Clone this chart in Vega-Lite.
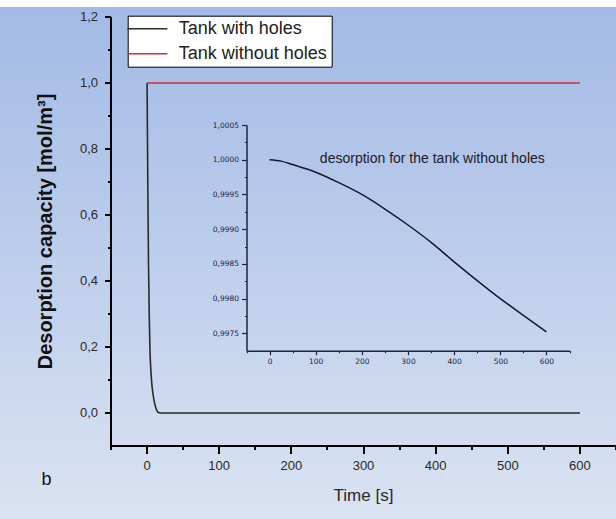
{
  "$schema": "https://vega.github.io/schema/vega-lite/v6.json",
  "width": 616,
  "height": 512,
  "autosize": "none",
  "padding": {"left": 0, "top": 7, "right": 0, "bottom": 0},
  "background": "#ffffff",
  "view": {
    "stroke": null,
    "fill": {"gradient": "linear", "x1": 0, "y1": 0, "x2": 0, "y2": 1,
      "stops": [{"offset": 0, "color": "#a2bae5"}, {"offset": 1, "color": "#dae3f2"}]}
  },
  "config": {
    "font": "Liberation Sans",
    "axis": {"grid": false, "labelFont": "Liberation Sans", "titleFont": "Liberation Sans", "labelOverlap": false, "labelFlush": false, "labelBound": false,
      "domainColor": "#000000", "domainWidth": 2, "tickColor": "#000000", "tickWidth": 1.6, "domainOpacity": 1, "tickOpacity": 1}
  },
  "datasets": {
    "main": [
      {"t": 0, "v": 1.0, "s": "Tank with holes"},
      {"t": 0.5, "v": 0.85, "s": "Tank with holes"},
      {"t": 1, "v": 0.7, "s": "Tank with holes"},
      {"t": 1.5, "v": 0.57, "s": "Tank with holes"},
      {"t": 2, "v": 0.45, "s": "Tank with holes"},
      {"t": 3, "v": 0.3, "s": "Tank with holes"},
      {"t": 4, "v": 0.19, "s": "Tank with holes"},
      {"t": 4.5, "v": 0.16, "s": "Tank with holes"},
      {"t": 5.5, "v": 0.12, "s": "Tank with holes"},
      {"t": 6.7, "v": 0.085, "s": "Tank with holes"},
      {"t": 8, "v": 0.06, "s": "Tank with holes"},
      {"t": 9.5, "v": 0.04, "s": "Tank with holes"},
      {"t": 11, "v": 0.024, "s": "Tank with holes"},
      {"t": 13, "v": 0.01, "s": "Tank with holes"},
      {"t": 15, "v": 0.002, "s": "Tank with holes"},
      {"t": 18, "v": 0, "s": "Tank with holes"},
      {"t": 600, "v": 0, "s": "Tank with holes"},
      {"t": 0, "v": 1.0, "s": "Tank without holes"},
      {"t": 600, "v": 1.0, "s": "Tank without holes"}
    ],
    "inset": [
      {"t": 0, "v": 1.0},
      {"t": 25, "v": 0.99998},
      {"t": 50, "v": 0.99993},
      {"t": 100, "v": 0.99982},
      {"t": 150, "v": 0.99967},
      {"t": 200, "v": 0.9995},
      {"t": 250, "v": 0.99929},
      {"t": 300, "v": 0.99906},
      {"t": 350, "v": 0.99881},
      {"t": 400, "v": 0.99853},
      {"t": 450, "v": 0.99826},
      {"t": 500, "v": 0.998},
      {"t": 550, "v": 0.99776},
      {"t": 600, "v": 0.99752}
    ],
    "panel": [{"t": -146.5, "v": -0.218, "label": "b"}],
    "note": [{"t": 109, "v": 0.99995, "label": "desorption for the tank without holes"}]
  },
  "layer": [
    {
      "layer": [
        {
          "data": {"name": "main"},
          "mark": {"type": "line", "strokeWidth": 1.6, "clip": false},
          "encoding": {
            "x": {"field": "t", "type": "quantitative",
              "scale": {"domain": [-50, 650], "range": [111, 616], "nice": false, "zero": false},
              "axis": {"orient": "bottom", "offset": -73, "translate": 0, "title": "Time [s]",
                "values": [-50, 0, 50, 100, 150, 200, 250, 300, 350, 400, 450, 500, 550, 600, 650],
                "labelExpr": "datum.value % 100 === 0 && datum.value >= 0 && datum.value <= 600 ? datum.label : ''",
                "tickSize": {"condition": {"test": "datum.value % 100 === 0", "value": 8}, "value": 4},
                "domainColor": "#000000", "domainWidth": 2, "tickColor": "#000000", "tickWidth": 2,
                "labelFontSize": 13, "labelColor": "#2a2a2a", "labelPadding": 6,
                "titleFontSize": 17, "titleFontWeight": "normal", "titleColor": "#2a2a2a", "titlePadding": 15}},
            "y": {"field": "v", "type": "quantitative",
              "scale": {"domain": [-0.1, 1.2], "range": [439, 10], "nice": false, "zero": false},
              "axis": {"orient": "left", "offset": -111, "translate": 0, "title": "Desorption capacity [mol/m³]",
                "values": [0, 0.1, 0.2, 0.3, 0.4, 0.5, 0.6, 0.7, 0.8, 0.9, 1.0, 1.1, 1.2],
                "labelExpr": "round(datum.value * 10) % 2 === 0 ? replace(format(datum.value, '.1f'), '.', ',') : ''",
                "tickSize": {"condition": {"test": "round(datum.value * 10) % 2 === 0", "value": 6}, "value": 3},
                "domainColor": "#000000", "domainWidth": 2, "tickColor": "#000000", "tickWidth": 2,
                "labelFontSize": 13, "labelColor": "#2a2a2a", "labelPadding": 7,
                "titleFontSize": 20, "titleFontWeight": "bold", "titleColor": "#111111", "titlePadding": 24}},
            "color": {"field": "s", "type": "nominal",
              "scale": {"domain": ["Tank with holes", "Tank without holes"], "range": ["#2b2b2b", "#cc2f3a"]},
              "legend": {"orient": "none", "legendX": 127.7, "legendY": 8.7, "title": null,
                "symbolType": "M-5,0H5", "symbolSize": 64, "symbolStrokeWidth": 1.6, "symbolOffset": 6.7,
                "labelFontSize": 18, "labelColor": "#222222", "labelOffset": 22.3,
                "padding": 4, "rowPadding": 7, "strokeColor": "#000000", "fillColor": "#ffffff"}}
          }
        },
        {
          "data": {"name": "panel"},
          "mark": {"type": "text", "align": "left", "baseline": "alphabetic", "fontSize": 18, "color": "#111111", "clip": false},
          "encoding": {
            "x": {"field": "t", "type": "quantitative"},
            "y": {"field": "v", "type": "quantitative"},
            "text": {"field": "label"}
          }
        }
      ]
    },
    {
      "layer": [
        {
          "data": {"name": "inset"},
          "mark": {"type": "line", "strokeWidth": 1.5, "color": "#111a30", "clip": false, "interpolate": "monotone"},
          "encoding": {
            "x": {"field": "t", "type": "quantitative",
              "scale": {"domain": [-50, 650], "range": [246.5, 569.5], "nice": false, "zero": false},
              "axis": {"orient": "bottom", "offset": -168.3, "title": null,
                "values": [-50, 0, 50, 100, 150, 200, 250, 300, 350, 400, 450, 500, 550, 600, 650],
                "labelExpr": "datum.value % 100 === 0 && datum.value >= 0 && datum.value <= 600 ? datum.label : ''",
                "tickSize": {"condition": {"test": "datum.value % 100 === 0", "value": 4}, "value": 2},
                "domainColor": "#1b2540", "domainWidth": 1.5, "tickColor": "#1b2540", "tickWidth": 1.2,
                "labelFont": "DejaVu Sans", "labelFontSize": 7.5, "labelColor": "#1b2540", "labelPadding": 3}},
            "y": {"field": "v", "type": "quantitative",
              "scale": {"domain": [0.99725, 1.0005], "range": [343.7, 118], "nice": false, "zero": false},
              "axis": {"orient": "left", "offset": -246.5, "title": null,
                "values": [0.9975, 0.99775, 0.998, 0.99825, 0.9985, 0.99875, 0.999, 0.99925, 0.9995, 0.99975, 1.0, 1.00025, 1.0005],
                "labelExpr": "round(datum.value * 10000) % 5 === 0 ? replace(format(datum.value, '.4f'), '.', ',') : ''",
                "tickSize": {"condition": {"test": "round(datum.value * 10000) % 5 === 0", "value": 5}, "value": 2},
                "domainColor": "#1b2540", "domainWidth": 1.5, "tickColor": "#1b2540", "tickWidth": 1.2,
                "labelFont": "DejaVu Sans", "labelFontSize": 7.5, "labelColor": "#1b2540", "labelPadding": 3}}
          }
        },
        {
          "data": {"name": "note"},
          "mark": {"type": "text", "align": "left", "baseline": "alphabetic", "fontSize": 14, "color": "#1a1a2a", "clip": false},
          "encoding": {
            "x": {"field": "t", "type": "quantitative"},
            "y": {"field": "v", "type": "quantitative"},
            "text": {"field": "label"}
          }
        }
      ]
    }
  ],
  "resolve": {"scale": {"x": "independent", "y": "independent"}, "axis": {"x": "independent", "y": "independent"}}
}
